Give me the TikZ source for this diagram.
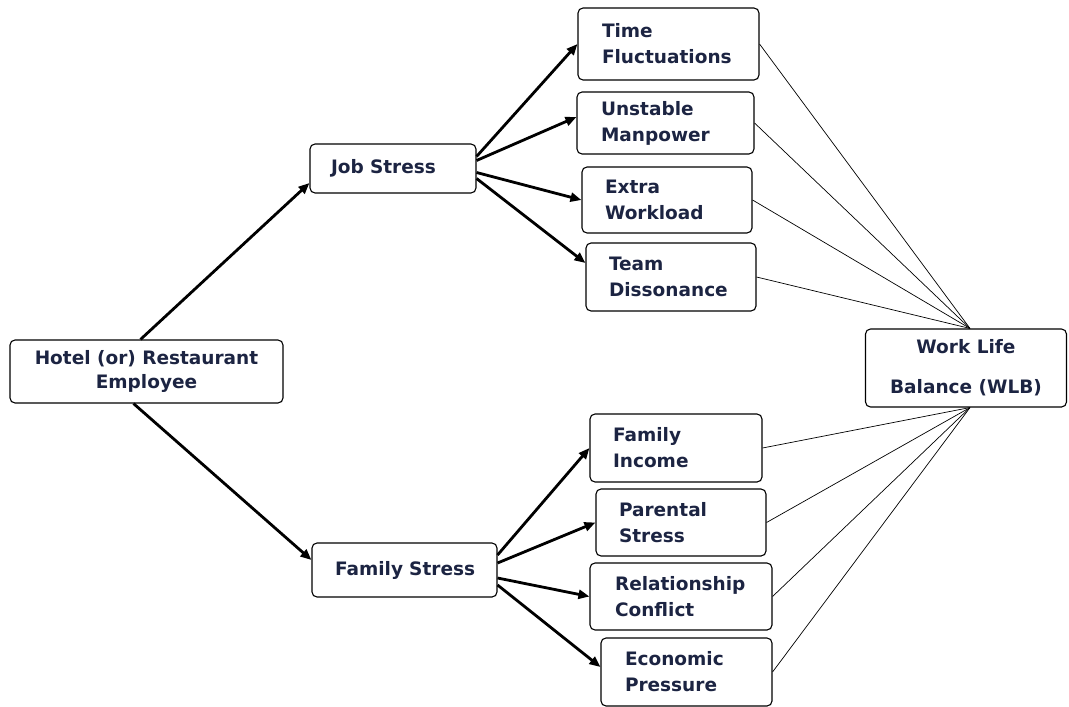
\documentclass[tikz,border=0pt]{standalone}
\usepackage{fontspec}
\setmainfont{DejaVu Sans}
\usetikzlibrary{arrows.meta}
\definecolor{labelblue}{RGB}{28,36,66}
\tikzset{
	box/.style = {draw, rounded corners = 5pt, line width = 1.1pt, text = labelblue, inner sep = 0pt,
		font = \bfseries\fontsize{18.5}{26}\selectfont},
	thick arrow/.style = {line width = 2.8pt, -{Triangle[length = 11pt, width = 9pt]}},
	thin line/.style = {line width = .7pt}
}

\begin{document}
\begin{tikzpicture}[x = 1pt, y = -1pt]
		\useasboundingbox (0, 0) rectangle (1069, 707);
		\node[box, align = center, minimum width = 273, minimum height = 63,
			font = \bfseries\fontsize{18.5}{24}\selectfont] (hotel) at (146.5, 371.5) {Hotel (or) Restaurant\\Employee};
		\node[box, align = center, minimum width = 201, minimum height = 78,
			font = \bfseries\fontsize{18.5}{40}\selectfont] (wlb) at (966, 368) {Work Life\\Balance (WLB)};
		\foreach \name/\x/\y/\w/\h/\pad/\txt in {job/393/168.5/166/49/21/{Job~Stress}, fam/404.5/570/185/54/23/{Family~Stress},
			time/668.5/44/181/72/24/{Time\\Fluctuations}, unstable/665.5/123/177/62/24/{Unstable\\Manpower},
			extra/667/200/170/66/23/{Extra\\Workload}, team/671/277/170/68/23/{Team\\Dissonance},
			income/676/448/172/68/23/{Family\\Income}, parental/681/522.5/170/67/23/{Parental\\Stress},
			relation/681/596.5/182/67/25/{Relationship\\Conflict}, economic/686.5/672/171/68/24/{Economic\\Pressure}}{
			\pgfmathsetmacro\tw{\w - 2 * \pad}
			\node[box, align = left, text width = \tw pt, minimum width = \w, minimum height = \h] (\name) at (\x, \y) {\txt};}
		\draw[thick arrow] ([xshift = -6]hotel.north) -- ([yshift = -14.5]job.west);
		\draw[thick arrow] ([xshift = -13]hotel.south) -- ([yshift = 10]fam.west);
		\foreach \to/\a/\b in {time/12/0, unstable/8/6, extra/-4/0, team/-10/14}{
			\draw[thick arrow] ([yshift = \a]job.east) -- ([yshift = \b]\to.west);}
		\foreach \to/\a/\b in {income/15/0, parental/7/0, relation/-8/0, economic/-15/5}{
			\draw[thick arrow] ([yshift = \a]fam.east) -- ([yshift = \b]\to.west);}
		\foreach \name in {time, unstable, extra, team}{
			\draw[thin line] (\name.east) -- ([xshift = 4]wlb.north);}
		\foreach \name in {income, parental, relation, economic}{
			\draw[thin line] (\name.east) -- ([xshift = 4]wlb.south);}
\end{tikzpicture}
\end{document}
